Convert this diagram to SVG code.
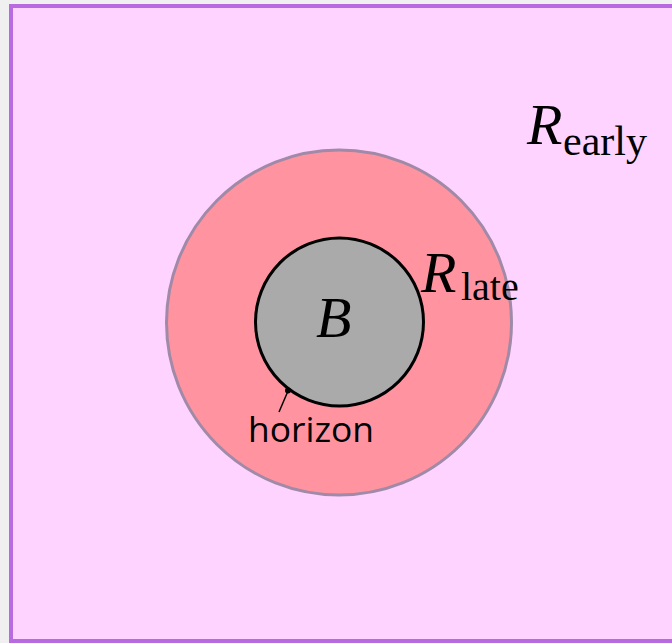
<svg xmlns="http://www.w3.org/2000/svg" width="672" height="643" viewBox="0 0 672 643">
<style>
.math{font-family:"Liberation Serif","Times New Roman",serif;font-style:italic;fill:#000}
.sub{font-family:"Liberation Serif","Times New Roman",serif;font-style:normal;fill:#000}
.lbl{font-family:"Open Sans","Liberation Sans",sans-serif;fill:#000}
</style>
<rect x="0" y="0" width="672" height="643" fill="#f0f0f0"/>
<g id="region-early">
<rect x="11" y="6" width="680" height="635" fill="#ffd3ff" stroke="#b86be0" stroke-width="4"/>
<text x="527" y="144" class="math" font-size="58">R</text>
<text x="563" y="155" class="sub" font-size="42">early</text>
</g>
<g id="region-late">
<circle cx="339" cy="322.5" r="172.5" fill="#ff94a0" stroke="#a08aa8" stroke-width="3"/>
<text x="421" y="292" class="math" font-size="58">R</text>
<text x="461" y="300" class="sub" font-size="40">late</text>
</g>
<g id="B">
<circle cx="339.5" cy="322" r="84" fill="#aaaaaa" stroke="#000" stroke-width="3"/>
<text x="316" y="337" class="math" font-size="58">B</text>
</g>
<g id="connectors">
<line x1="279" y1="412" x2="288" y2="391" stroke="#000" stroke-width="1.5"/>
<circle cx="288" cy="390.5" r="3" fill="#000"/>
</g>
<g id="horizon-label">
<text x="248" y="442" class="lbl" font-size="35" textLength="126" lengthAdjust="spacingAndGlyphs">horizon</text>
</g>
</svg>
